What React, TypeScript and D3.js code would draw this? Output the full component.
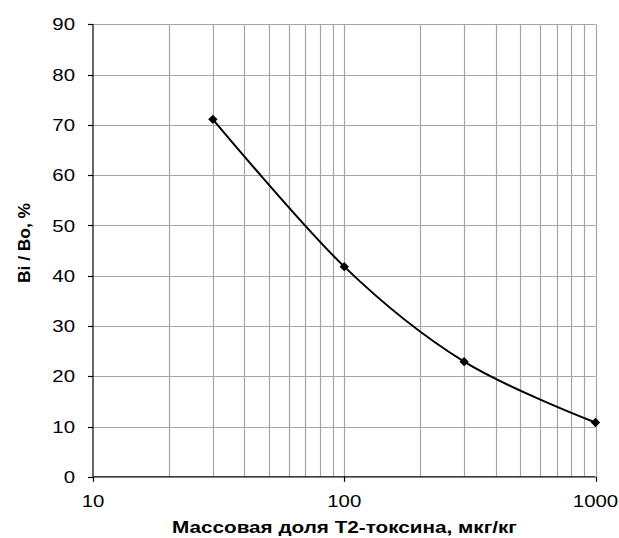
import React from "react";
import * as d3 from "d3";

const concentrations = [30, 100, 300, 1000];
const ratios = [71.1, 41.8, 22.9, 10.8];
const yTicks = [0, 10, 20, 30, 40, 50, 60, 70, 80, 90];
const xMajorTicks = [10, 100, 1000];
const xGridValues = [20, 30, 40, 50, 60, 70, 80, 90, 100, 200, 300, 400, 500, 600, 700, 800, 900, 1000];
const xTitle = "Массовая доля Т2-токсина, мкг/кг";
const yTitle = "Bi / Bo, %";

const W = 619, H = 538;
const left = 93, right = 595.5, top = 24.3, bottom = 476.8;
const SX = 1.2;

export default function App() {
  const x = d3.scaleLog().domain([10, 1000]).range([left, right]);
  const y = d3.scaleLinear().domain([0, 90]).range([bottom, top]);
  const pts: [number, number][] = concentrations.map((c, i) => [x(c), y(ratios[i])]);
  const line = d3.line().curve(d3.curveCardinal.tension(0))(pts) || "";
  const diamond = d3.symbol().type(d3.symbolSquare).size(44)() || "";
  const font = "'Liberation Sans', Arial, sans-serif";
  return (
    <svg width={W} height={H} style={{ position: "absolute", left: 0, top: 0 }} fontFamily={font}>
      <rect width={W} height={H} fill="#fff" />
      {yTicks.filter((t) => t > 0).map((t) => (
        <line key={"hy" + t} x1={left} x2={right} y1={Math.round(y(t)) + 0.5} y2={Math.round(y(t)) + 0.5} stroke="#a6a6a6" strokeWidth={1.2} />
      ))}
      {xGridValues.map((v) => (
        <line key={"vx" + v} x1={Math.round(x(v)) + 0.5} x2={Math.round(x(v)) + 0.5} y1={top} y2={bottom} stroke="#a6a6a6" strokeWidth={1.2} />
      ))}
      <line x1={left} x2={left} y1={top} y2={bottom} stroke="#000" strokeWidth={1.2} />
      <line x1={left} x2={right} y1={bottom} y2={bottom} stroke="#000" strokeWidth={1.2} />
      {yTicks.map((t) => (
        <g key={"yt" + t}>
          <line x1={left - 5} x2={left} y1={Math.round(y(t)) + 0.5} y2={Math.round(y(t)) + 0.5} stroke="#000" strokeWidth={1.2} />
          <text transform={`translate(75,${y(t)}) scale(${SX},1)`} dy="0.36em" textAnchor="end" fontSize={17} fill="#000">{t}</text>
        </g>
      ))}
      {xMajorTicks.map((t) => (
        <g key={"xt" + t}>
          <line x1={Math.round(x(t)) + 0.5} x2={Math.round(x(t)) + 0.5} y1={bottom} y2={bottom + 5} stroke="#000" strokeWidth={1.2} />
          <text transform={`translate(${x(t)},507) scale(${SX},1)`} textAnchor="middle" fontSize={17} fill="#000">{t}</text>
        </g>
      ))}
      <path d={line} fill="none" stroke="#000" strokeWidth={2} />
      {pts.map((p, i) => (
        <path key={"m" + i} d={diamond} transform={`translate(${p[0]},${p[1]}) rotate(45)`} fill="#000" />
      ))}
      <text x={172} y={533} textLength={345} lengthAdjust="spacingAndGlyphs" fontSize={17} fontWeight="bold" fill="#000">{xTitle}</text>
      <text transform={`translate(30,283) rotate(-90)`} textLength={80} lengthAdjust="spacingAndGlyphs" fontSize={16} fontWeight="bold" fill="#000">{yTitle}</text>
    </svg>
  );
}
